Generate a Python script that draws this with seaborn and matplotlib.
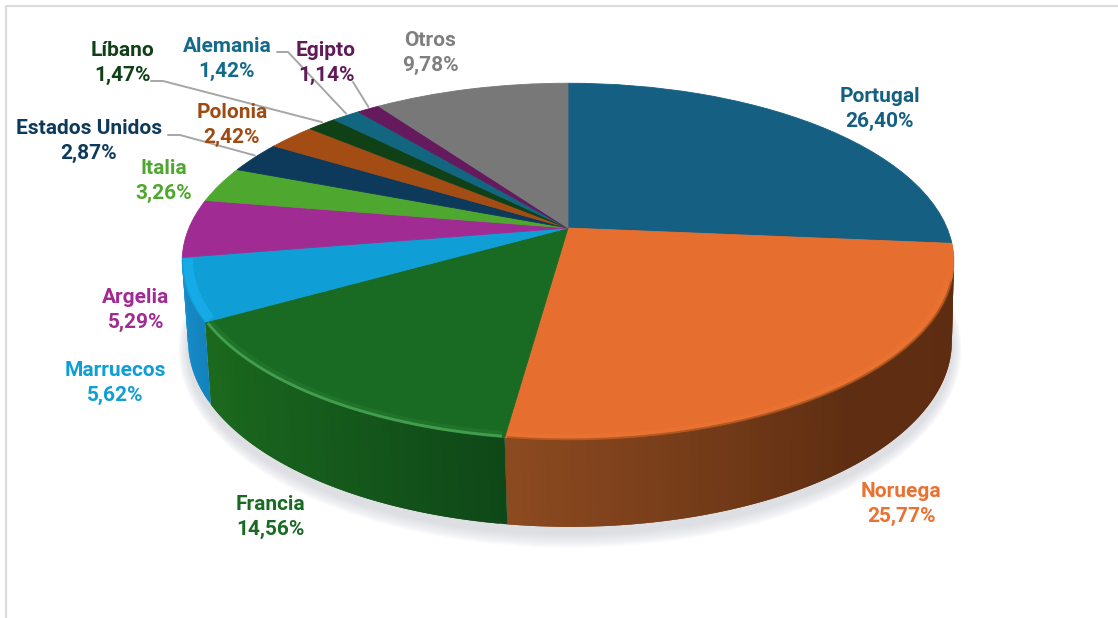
import numpy as np
import matplotlib
matplotlib.use("Agg")
import matplotlib.pyplot as plt
from matplotlib.collections import PolyCollection
from matplotlib.patches import Ellipse
from matplotlib.transforms import Transform
import seaborn as sns

# ---- data ----
countries = ["Portugal", "Noruega", "Francia", "Marruecos", "Argelia", "Italia",
             "Estados Unidos", "Polonia", "Líbano", "Alemania", "Egipto", "Otros"]
shares = [26.40, 25.77, 14.56, 5.62, 5.29, 3.26, 2.87, 2.42, 1.47, 1.42, 1.14, 9.78]
share_labels = ["26,40%", "25,77%", "14,56%", "5,62%", "5,29%", "3,26%",
                "2,87%", "2,42%", "1,47%", "1,42%", "1,14%", "9,78%"]

# ---- styles ----
face_colors = ["#156082", "#E66E2E", "#196B24", "#0F9ED5", "#A02B93", "#4EA72E",
               "#0D3A5A", "#A34C14", "#0F4016", "#12667F", "#641A5C", "#787878"]
label_colors = ["#156082", "#E97132", "#196B24", "#0F9ED5", "#A02B93", "#4EA72E",
                "#0D3A5A", "#A04A13", "#0F4016", "#136A8A", "#601A58", "#7F7F7F"]
wall_stops = {1: ["#5c2b11", "#5f2e12", "#8c4a20"],
              2: ["#0f4818", "#165c1c", "#1c6a1e"],
              3: ["#1483bd", "#1690cc"]}
label_pos = [(880, 109), (901, 504), (270, 517), (115, 383), (136, 310), (164, 181),
             (89, 141), (232, 125), (122, 63), (227, 59), (326, 63), (430, 53)]
leaders = {8: [(151, 81), (163, 81)], 9: [(277, 52), (288, 52)],
           10: [(353, 82)], 6: [(168, 135), (180, 135)]}

W, H = 1118, 618
APEX_X, APEX_Y = 568.0, 228.0
RX, RY, K = 379.0, 172.0, 0.188
TOP_C = (566.0, 261.0, 386.0, 178.0)   # centre/semi axes of the top rim
BOT_C = (568.0, 341.0, 382.0, 185.0)   # centre/semi axes of the bottom rim


def persp(x, y):
    w = 1 + K * y
    return APEX_X + RX * x / w, APEX_Y - RY * y / w


def drop(px, py):
    return (BOT_C[0] + (px - TOP_C[0]) * BOT_C[2] / TOP_C[2],
            BOT_C[1] + (py - TOP_C[1]) * BOT_C[3] / TOP_C[3])


def rim(deg, r=1.0):
    a = np.radians(deg)
    return persp(r * np.sin(a), r * np.cos(a))


class Persp(Transform):
    input_dims = output_dims = 2
    is_separable = False

    def transform_non_affine(self, values):
        v = np.asarray(values, float)
        px, py = persp(v[:, 0], v[:, 1])
        return np.column_stack([px, py])


sns.set_theme(style="white")
plt.rcParams["font.family"] = ["Roboto", "DejaVu Sans"]
palette = sns.color_palette(face_colors)

fig = plt.figure(figsize=(W / 100, H / 100), dpi=100)
ax = fig.add_axes([0, 0, 1, 1])

# frame
ax.plot([6, 6, W], [H, 6, 6], color="#dcdcdc", lw=1.6, zorder=1)

# soft shadow
for i in range(14):
    grow = 14 - i
    ax.add_patch(Ellipse((BOT_C[0] + 2, BOT_C[1] + 8), 2 * (BOT_C[2] + grow * 0.7), 2 * (BOT_C[3] + grow),
                         fc="#9aa0aa", ec="none", alpha=0.022, zorder=2))

# top face through the library's pie
wedges, _ = ax.pie(shares, colors=palette, startangle=90, counterclock=False,
                   wedgeprops={"linewidth": 0.6})
tf = Persp() + ax.transData
for wd, c in zip(wedges, palette):
    wd.set_transform(tf)
    wd.set_edgecolor(c)
    wd.set_zorder(5)
ax.set_aspect("auto")
ax.set_xlim(0, W)
ax.set_ylim(H, 0)
ax.axis("off")

# side wall of the slices facing the viewer; quads overlap so no seams show
edges = np.concatenate([[0], np.cumsum(shares)]) / np.sum(shares) * 360
for i, stops in wall_stops.items():
    n = max(2, int(edges[i + 1] - edges[i]))
    ts = np.linspace(edges[i], edges[i + 1], n + 1)
    cols = sns.blend_palette(stops, n_colors=n)
    px, py = rim(ts)
    qx, qy = drop(px, py)
    quads = []
    for j in range(n):
        k = min(j + 2, n)
        quads.append([(px[j], py[j]), (px[k], py[k]), (qx[k], qy[k]), (qx[j], qy[j])])
    ax.add_collection(PolyCollection(quads, facecolors=cols, edgecolors="none", zorder=4))

# bevel on the front of the rim
bevels = [(1, "#f07c3a", 4.0, 0.30, 0.990), (1, "#8a4418", 2.0, 0.55, 1.0),
          (2, "#2f8a3a", 5.0, 0.30, 0.990), (2, "#46a352", 2.0, 0.90, 0.996),
          (3, "#18aeea", 7.0, 0.85, 0.985)]
for i, col, lw, al, r in bevels:
    ts = np.linspace(edges[i] + 0.4, edges[i + 1] - 0.4, 120)
    if i == 1:
        ts = np.linspace(edges[i] + 12, edges[i + 1] - 0.3, 120)
    bx, by = rim(ts, r)
    ax.plot(bx, by, color=col, lw=lw, alpha=al, zorder=6, solid_capstyle="butt")

# labels
for name, val, (lx, ly), col in zip(countries, share_labels, label_pos, label_colors):
    ax.text(lx, ly, f"{name}\n{val}", color=col, fontsize=15, fontweight="bold",
            ha="center", va="center", linespacing=1.34, zorder=8)

# leader lines ending at the middle of their slice
for i, pts in leaders.items():
    ex, ey = rim((edges[i] + edges[i + 1]) / 2, 1.0)
    xs = [p[0] for p in pts] + [float(ex)]
    ys = [p[1] for p in pts] + [float(ey) - 2]
    ax.plot(xs, ys, color="#a6a6a6", lw=1.4, zorder=7)

fig.savefig("out.png", dpi=100, facecolor="white")
